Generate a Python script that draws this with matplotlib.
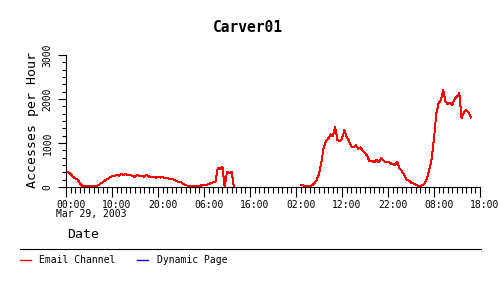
import numpy as np
import pandas as pd
import matplotlib
matplotlib.use('Agg')
import matplotlib.pyplot as plt
import matplotlib.dates as mdates
from matplotlib.lines import Line2D
from matplotlib.transforms import ScaledTranslation
from matplotlib.ticker import MultipleLocator

plt.rcParams['font.family'] = ['DejaVu Sans Mono']

## Datos (accesos por hora, muestras cada 30 min)
titulo = 'Carver01'
inicio_a = '2003-03-29 00:00'
email_a = [350, 330, 300, 230, 200, 170, 90, 30, 20, 10,
           25, 15, 10, 20, 40, 80, 110, 150, 180, 215,
           240, 255, 270, 260, 290, 275, 300, 265, 280, 250,
           230, 270, 245, 260, 230, 280, 240, 220, 235, 210,
           240, 215, 225, 200, 210, 185, 175, 170, 130, 120,
           110, 70, 40, 30, 20, 25, 15, 20, 20, 40,
           45, 50, 60, 90, 110, 120, 440, 400, 460, 0,
           350, 320, 340, 0]
inicio_b = '2003-03-31 03:00'
email_b = [40, 35, 20, 15, 20, 40, 90, 160, 300, 560,
           880, 1040, 1100, 1200, 1150, 1360, 1070, 1040, 1100, 1290,
           1150, 1050, 920, 900, 950, 870, 900, 820, 780, 700,
           580, 600, 560, 620, 560, 650, 600, 560, 580, 540,
           520, 500, 580, 420, 360, 280, 170, 150, 100, 80,
           60, 30, 20, 40, 80, 200, 400, 650, 1100, 1680,
           1900, 1980, 2200, 1950, 1880, 1920, 1870, 2010, 2050, 2130,
           1560, 1700, 1750, 1700, 1580]
series = ['Email Channel', 'Dynamic Page']
colores = ['#ff0000', '#0000ff']
inicio_eje = '2003-03-29 00:00'
fin_eje = '2003-04-01 18:00'

t_a = pd.date_range(inicio_a, periods=len(email_a), freq='30min')
t_b = pd.date_range(inicio_b, periods=len(email_b), freq='30min')

fig = plt.figure(figsize=(5, 3), dpi=100)
ax = fig.add_axes([66/500, 1-187/300, 414/500, 132/300])

ax.plot(t_a, email_a, color=colores[0], lw=0.7, antialiased=False)
ax.plot(t_b, email_b, color=colores[0], lw=0.7, antialiased=False)

ax.set_xlim(pd.Timestamp(inicio_eje), pd.Timestamp(fin_eje))
ax.set_ylim(0, 3000)

for s in ['top', 'right']:
    ax.spines[s].set_visible(False)
for s in ['left', 'bottom']:
    ax.spines[s].set_linewidth(0.8)

ticks = pd.date_range(inicio_eje, fin_eje, freq='10h')
ax.set_xticks(ticks)
ax.set_xticklabels([t.strftime('%H:%M') for t in ticks], fontsize=7, ha='left')
ax.xaxis.set_minor_locator(mdates.HourLocator())

ax.yaxis.set_major_locator(MultipleLocator(1000))
ax.yaxis.set_minor_locator(MultipleLocator(1000/6))
ax.tick_params(axis='y', which='major', length=6, width=0.8, labelsize=7, pad=3.5)
ax.tick_params(axis='y', which='minor', length=2.9, width=0.8)
ax.tick_params(axis='x', which='major', length=7.2, width=0.8, pad=2)
ax.tick_params(axis='x', which='minor', length=4.3, width=0.8)
for lab in ax.get_yticklabels():
    lab.set_rotation(90)
    lab.set_va('center')

# las etiquetas de hora empiezan un poco a la izquierda de cada marca
desplaza = ScaledTranslation(-10/100, 0, fig.dpi_scale_trans)
for tick in ax.xaxis.get_major_ticks():
    tick.label1.set_transform(tick.label1.get_transform() + desplaza)

# fecha debajo de la primera etiqueta
fig.text(56/500, 1-214/300, ticks[0].strftime('%b %d, %Y'), ha='left', va='center', fontsize=7)

fig.text(248/500, 1-28/300, titulo, ha='center', va='center', fontsize=10.5, fontweight='bold')
fig.text(33/500, 1-188/300, 'Accesses per Hour', rotation=90, ha='center', va='bottom', fontsize=9.5)
fig.text(67/500, 1-235/300, 'Date', ha='left', va='center', fontsize=9.5)

fig.add_artist(Line2D([20/500, 481/500], [1-249/300, 1-249/300], color='black', lw=0.8))

manijas = [Line2D([], [], color=c, lw=1.0) for c in colores]
fig.legend(manijas, series, loc='center left', bbox_to_anchor=(20/500, 1-260/300),
           ncol=2, frameon=False, fontsize=7, handlelength=1.15, handletextpad=0.85,
           columnspacing=2.2, borderpad=0, borderaxespad=0)

fig.savefig('out.png', dpi=100)
